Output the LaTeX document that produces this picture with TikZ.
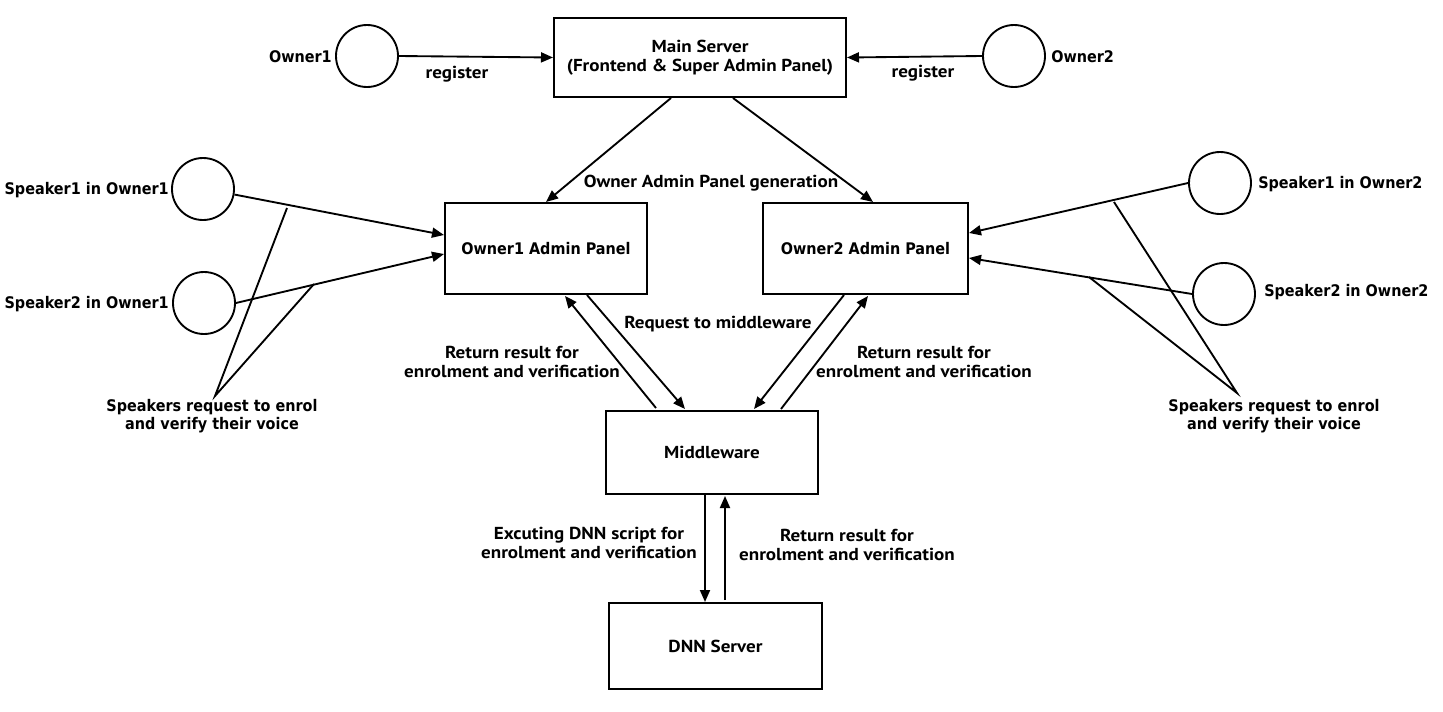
\documentclass[tikz,border=0pt]{standalone}
\usepackage{fontspec}
\usetikzlibrary{arrows.meta,calc}
\newfontfamily\humfont[FakeStretch=1.1]{PT Sans}
\newfontfamily\verdfont[FakeStretch=0.9]{DejaVu Sans}
\newcommand\pxu{0.75pt}
\begin{document}
\begin{tikzpicture}[x=0.75pt,y=-0.75pt,
  box/.style={draw,line width=1.5pt,minimum width=#1,inner sep=0pt},
  actor/.style={draw,circle,line width=1.4pt,minimum size=62*\pxu,inner sep=0pt},
  arr/.style={line width=1.4pt,-{Triangle[length=12*\pxu,width=10*\pxu]}},
  callout/.style={line width=1.4pt},
  hum/.style={font=\humfont\bfseries\fontsize{13pt}{14.25pt}\selectfont,align=center,inner sep=0pt},
  verd/.style={font=\verdfont\bfseries\fontsize{12pt}{13.5pt}\selectfont,align=center,inner sep=0pt}]
\path[use as bounding box,fill=white] (0,0) rectangle (1443,711);

% boxes
\node[box=292*\pxu,minimum height=79*\pxu,hum] (ms) at (700,57.5) {Main Server\\(Frontend \& Super Admin Panel)};
\node[box=202*\pxu,minimum height=91*\pxu,verd] (o1ap) at (546,248.5) {Owner1 Admin Panel};
\node[box=205*\pxu,minimum height=91*\pxu,verd] (o2ap) at (865.5,248.5) {Owner2 Admin Panel};
\node[box=212*\pxu,minimum height=83*\pxu,hum] (mw) at (712,452.5) {Middleware};
\node[box=213*\pxu,minimum height=86*\pxu,hum] (dnn) at (715.5,646) {DNN Server};

% actors
\node[actor] (o1) at (367,56) {};
\node[actor] (o2) at (1014,56) {};
\node[actor] (s1o1) at (203,189) {};
\node[actor] (s2o1) at (204,303) {};
\node[actor] (s1o2) at (1220,183) {};
\node[actor] (s2o2) at (1224,294) {};

% actor labels
\node[verd,anchor=east] (lo1) at (332,57) {Owner1};
\node[verd,anchor=west] (lo2) at (1051,57) {Owner2};
\node[verd,anchor=east] (ls1o1) at (169,190) {Speaker1 in Owner1};
\node[verd,anchor=east] (ls2o1) at (169,304) {Speaker2 in Owner1};
\node[verd,anchor=west] (ls1o2) at (1258,184) {Speaker1 in Owner2};
\node[verd,anchor=west] (ls2o2) at (1264,292) {Speaker2 in Owner2};

% arrows
\draw[arr] (o1.east) -- (ms.west);
\draw[arr] (o2.west) -- (ms.east);
\draw[arr] ($(ms.south west)+(118,0)$) -- (o1ap.north);
\draw[arr] ($(ms.south west)+(180,0)$) -- ($(o2ap.north west)+(111,0)$);
\draw[arr] (s1o1.-10) -- ($(o1ap.west)+(0,-13.5)$);
\draw[arr] (s2o1.east) -- ($(o1ap.west)+(0,5.5)$);
\draw[arr] (s1o2.west) -- ($(o2ap.east)+(0,-15.5)$);
\draw[arr] (s2o2.west) -- ($(o2ap.east)+(0,9.5)$);
\draw[arr] ($(o1ap.south west)+(143,0)$) -- ($(mw.north west)+(80,-1)$);
\draw[arr] ($(mw.north west)+(51,-2)$) -- ($(o1ap.south west)+(121,1)$);
\draw[arr] ($(o2ap.south west)+(82,0)$) -- ($(mw.north west)+(149,-1)$);
\draw[arr] ($(mw.north west)+(176,-1)$) -- ($(o2ap.south west)+(106,1)$);
\draw[arr] ($(mw.south west)+(100,0)$) -- ($(dnn.north west)+(97,0)$);
\draw[arr] ($(dnn.north west)+(117,-2)$) -- ($(mw.south west)+(120,1)$);

% edge labels
\node[hum] (reg1) at (457,74) {register};
\node[hum] (reg2) at (923,73) {register};
\node[hum] (gen) at (711,183) {Owner Admin Panel generation};
\node[hum] (req) at (718,324) {Request to middleware};
\node[hum] (ret1) at (512,362) {Return result for\\enrolment and verification};
\node[hum] (ret2) at (924,362) {Return result for\\enrolment and verification};
\node[hum] (exe) at (589,543) {Excuting DNN script for\\enrolment and verification};
\node[hum] (ret3) at (847,545) {Return result for\\enrolment and verification};

% callouts
\node[verd] (sp1) at (212,416) {Speakers request to enrol\\and verify their voice};
\node[verd] (sp2) at (1274,416) {Speakers request to enrol\\and verify their voice};
\coordinate (c1a) at (215,396);
\coordinate (c1b) at (287,208);
\coordinate (c1c) at (314,284);
\coordinate (c2a) at (1237,393);
\coordinate (c2b) at (1114,202);
\coordinate (c2c) at (1089,277);
\draw[callout] (c1b) -- (c1a) -- (c1c);
\draw[callout] (c2b) -- (c2a) -- (c2c);
\end{tikzpicture}
\end{document}
